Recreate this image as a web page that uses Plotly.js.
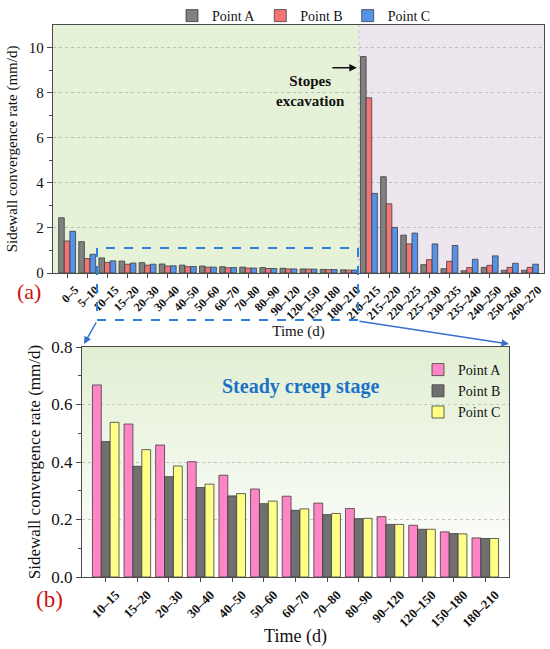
<!DOCTYPE html>
<html>
<head>
<meta charset="utf-8">
<script src="https://cdn.plot.ly/plotly-3.0.1.min.js"></script>
<style>html,body{margin:0;padding:0;background:#fff;}#chart{width:550px;height:649px;}</style>
</head>
<body>
<div id="chart"></div>
<script>
// ---- Data ----
var timeTop = ["0–5","5–10","10–15","15–20","20–30","30–40","40–50","50–60","60–70","70–80","80–90","90–120","120–150","150–180","180–210","210–215","215–220","220–225","225–230","230–235","235–240","240–250","250–260","260–270"];
var topA = [2.45,1.39,0.67,0.53,0.46,0.40,0.35,0.31,0.28,0.26,0.24,0.21,0.18,0.16,0.14,9.60,4.27,1.68,0.37,0.19,0.10,0.25,0.12,0.12];
var topB = [1.42,0.64,0.47,0.39,0.35,0.31,0.28,0.26,0.23,0.22,0.20,0.18,0.17,0.15,0.13,7.77,3.07,1.29,0.59,0.52,0.24,0.34,0.25,0.25];
var topC = [1.85,0.83,0.54,0.44,0.39,0.32,0.29,0.26,0.24,0.22,0.20,0.18,0.17,0.15,0.13,3.53,2.02,1.77,1.29,1.22,0.61,0.76,0.43,0.39];

var timeBot = ["10–15","15–20","20–30","30–40","40–50","50–60","60–70","70–80","80–90","90–120","120–150","150–180","180–210"];
var botA = [0.668,0.532,0.459,0.401,0.354,0.306,0.281,0.257,0.238,0.210,0.180,0.157,0.136];
var botB = [0.471,0.385,0.349,0.311,0.282,0.255,0.232,0.217,0.203,0.183,0.166,0.151,0.134];
var botC = [0.538,0.443,0.386,0.323,0.290,0.264,0.237,0.221,0.204,0.183,0.166,0.150,0.134];

var seriesNames = ["Point A","Point B","Point C"];

// ---- Styles ----
var serif = "Liberation Serif";
var lineCol = "#4a4a4a";
var topColors = ["#808080","#f37474","#5592e8"];
var botColors = ["#ff85c6","#707070","#ffff85"];

var traces = [];
[topA, topB, topC].forEach(function(v, i){
  traces.push({type:"bar", x:timeTop, y:v, name:seriesNames[i], xaxis:"x", yaxis:"y",
    marker:{color:topColors[i], line:{color:"#3c3c3c", width:0.8}}, legend:"legend"});
});
[botA, botB, botC].forEach(function(v, i){
  traces.push({type:"bar", x:timeBot, y:v, name:seriesNames[i], xaxis:"x2", yaxis:"y2",
    marker:{color:botColors[i], line:{color:"#3c3c3c", width:0.8}}, legend:"legend2"});
});

var W = 550, H = 649;
function px(x){ return x / W; }
function py(y){ return 1 - y / H; }

var gradSvg = '<svg xmlns="http://www.w3.org/2000/svg" width="100" height="100" preserveAspectRatio="none"><defs><linearGradient id="g" x1="0" y1="0" x2="0" y2="1"><stop offset="0" stop-color="#e1efd3"/><stop offset="1" stop-color="#ffffff"/></linearGradient></defs><rect width="100" height="100" fill="url(#g)"/></svg>';
var gradUri = "data:image/svg+xml;base64," + btoa(gradSvg);

var layout = {
  width: W, height: H,
  margin:{l:0, r:0, t:0, b:0},
  paper_bgcolor:"#ffffff",
  plot_bgcolor:"rgba(0,0,0,0)",
  barmode:"group",
  font:{family:serif, color:"#111"},
  showlegend:true,
  legend:{orientation:"h", x:px(172), xanchor:"left", y:1, yanchor:"top",
    font:{family:serif, size:14, color:"#111"}, bgcolor:"rgba(0,0,0,0)", itemwidth:30, tracegroupgap:0},
  legend2:{x:px(418), xanchor:"left", y:py(354), yanchor:"top",
    font:{family:serif, size:14, color:"#111"}, bgcolor:"rgba(0,0,0,0)", itemwidth:30, tracegroupgap:0},
  xaxis:{domain:[px(53), px(544)], anchor:"y", type:"category", range:[-0.7, 23.7],
    showline:true, linecolor:lineCol, linewidth:1.2, mirror:true,
    ticks:"outside", ticklen:4, tickcolor:lineCol, tickangle:-45, ticklabelshift:8,
    tickfont:{family:serif, size:12, color:"#111", weight:"bold"},
    showgrid:false, zeroline:false, automargin:false,
    title:{text:"Time (d)", font:{family:serif, size:15, color:"#111"}, standoff:2}},
  yaxis:{domain:[py(273), py(25)], anchor:"x", range:[0,11],
    showline:true, linecolor:lineCol, linewidth:1.2, mirror:true,
    ticks:"outside", ticklen:5, tickcolor:lineCol, tickvals:[0,2,4,6,8,10],
    minor:{tickvals:[1,3,5,7,9], ticks:"outside", ticklen:3, tickcolor:lineCol, showgrid:false},
    tickfont:{family:serif, size:15, color:"#111"},
    showgrid:true, gridcolor:"#bdbdbd", griddash:"dot", gridwidth:1, zeroline:false, automargin:false,
    title:{text:"Sidewall convergence rate (mm/d)", font:{family:serif, size:15, color:"#111"}, standoff:7}},
  xaxis2:{domain:[px(82), px(509)], anchor:"y2", type:"category", range:[-0.75, 12.75],
    showline:true, linecolor:lineCol, linewidth:1.2, mirror:true,
    ticks:"outside", ticklen:4, tickcolor:lineCol, tickangle:-45, ticklabelshift:10,
    tickfont:{family:serif, size:13, color:"#111", weight:"bold"},
    showgrid:false, zeroline:false, automargin:false,
    title:{text:"Time (d)", font:{family:serif, size:18, color:"#111"}, standoff:0}},
  yaxis2:{domain:[py(577), py(347)], anchor:"x2", range:[0,0.8],
    showline:true, linecolor:lineCol, linewidth:1.2, mirror:true,
    ticks:"outside", ticklen:5, tickcolor:lineCol, tickvals:[0,0.2,0.4,0.6,0.8], tickformat:".1f",
    minor:{tickvals:[0.1,0.3,0.5,0.7], ticks:"outside", ticklen:3, tickcolor:lineCol, showgrid:false},
    tickfont:{family:serif, size:17, color:"#111"},
    showgrid:true, gridcolor:"#c4c4c4", griddash:"dot", gridwidth:1, zeroline:false, automargin:false,
    title:{text:"Sidewall convergence rate (mm/d)", font:{family:serif, size:17, color:"#111"}, standoff:6}},
  bargap:0.16, bargroupgap:0,
  images:[{source:gradUri, xref:"x2 domain", yref:"y2 domain", x:0, y:1, sizex:1, sizey:1,
    xanchor:"left", yanchor:"top", sizing:"stretch", layer:"below"}],
  shapes:[
    {type:"rect", layer:"below", xref:"x", yref:"y domain", x0:-0.7, x1:14.5, y0:0, y1:1, fillcolor:"#e6f2d8", line:{width:0}},
    {type:"rect", layer:"below", xref:"x", yref:"y domain", x0:14.5, x1:23.7, y0:0, y1:1, fillcolor:"#eee6ef", line:{width:0}},
    {type:"line", layer:"below", xref:"x", yref:"y domain", x0:14.5, x1:14.5, y0:0, y1:1, line:{color:"#bdbdbd", width:1, dash:"dot"}},
    {type:"rect", layer:"above", xref:"paper", yref:"paper", x0:px(97), x1:px(358), y0:py(320), y1:py(248), line:{color:"#2f80d8", width:2, dash:"dash"}}
  ],
  annotations:[
    {xref:"paper", yref:"paper", x:px(84), y:py(344), ax:px(97), ay:py(321), axref:"paper", ayref:"paper", text:"", showarrow:true, arrowhead:2, arrowsize:1, arrowwidth:1.5, arrowcolor:"#3a6fd0"},
    {xref:"paper", yref:"paper", x:px(509), y:py(344), ax:px(358), ay:py(321), axref:"paper", ayref:"paper", text:"", showarrow:true, arrowhead:2, arrowsize:1, arrowwidth:1.5, arrowcolor:"#3a6fd0"},
    {xref:"x", yref:"y", x:14.4, y:9.1, ax:-26, ay:0, text:"", showarrow:true, arrowhead:2, arrowsize:1, arrowwidth:1.5, arrowcolor:"#111"},
    {xref:"paper", yref:"paper", x:px(310), y:py(71), text:"<b>Stopes</b><br><b>excavation</b>", showarrow:false, font:{family:serif, size:15, color:"#111"}, align:"center"},
    {xref:"paper", yref:"paper", x:px(300), y:py(386), text:"<b>Steady creep stage</b>", showarrow:false, font:{family:serif, size:20, color:"#1a72c8"}},
    {xref:"paper", yref:"paper", x:px(15), y:py(291), text:"(a)", showarrow:false, font:{family:serif, size:22, color:"#cc1111"}},
    {xref:"paper", yref:"paper", x:px(34), y:py(614), text:"(b)", showarrow:false, font:{family:serif, size:23, color:"#cc1111"}}
  ]
};

Plotly.newPlot("chart", traces, layout, {displayModeBar:false, staticPlot:true});
</script>
</body>
</html>
